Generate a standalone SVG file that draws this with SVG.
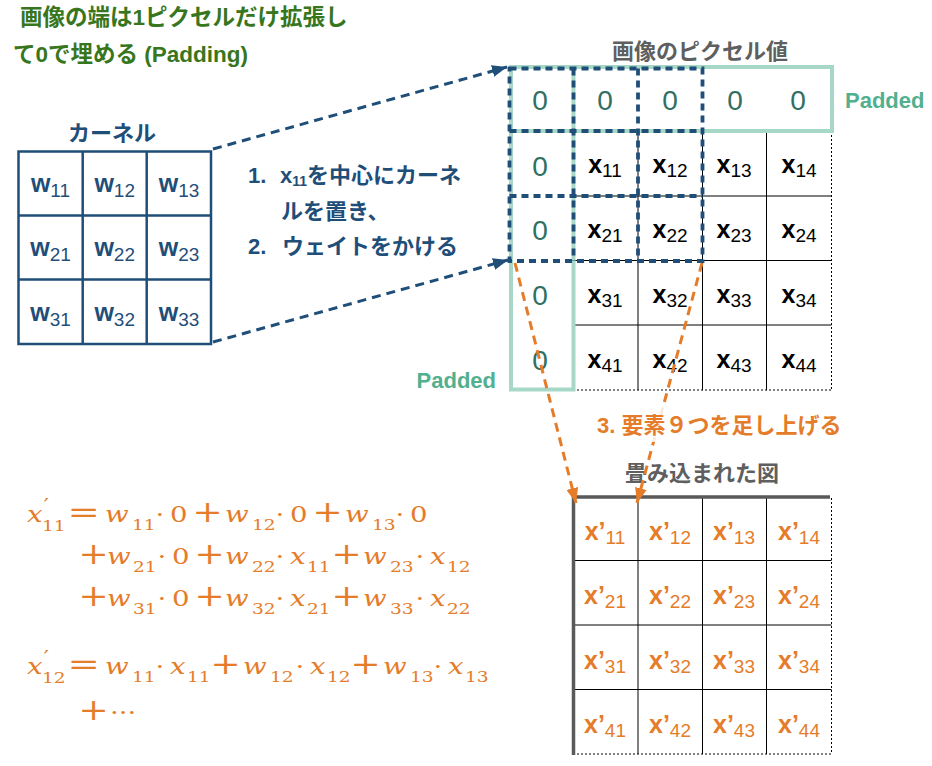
<svg xmlns="http://www.w3.org/2000/svg" width="932" height="766" viewBox="0 0 932 766">
<defs>
<style>
.sans{font-family:"Liberation Sans","Noto Sans CJK JP",sans-serif}
.b{font-weight:bold}
.green{fill:#38761d}
.navy{fill:#1f4e79}
.gray{fill:#5f5f5f}
.orange{fill:#e57c2a}
.teal{fill:#52b08f}
.zero{font-family:"Liberation Sans",sans-serif;font-size:28px;fill:#2f7062;text-anchor:middle}
.cell{font-family:"Liberation Sans",sans-serif;font-size:25px;font-weight:bold;text-anchor:middle}
.sub{font-size:19px;font-weight:normal}
.thin{stroke:#000;stroke-width:1;fill:none}
.dot{stroke:#000;stroke-width:1;fill:none;stroke-dasharray:2 2}
.tealbox{fill:none;stroke:#a6d7c7;stroke-width:4}
.kdash{fill:none;stroke:#1f4e79;stroke-width:3.8;stroke-dasharray:7 5}
.navyline{fill:none;stroke:#1f4e79;stroke-width:3;stroke-dasharray:9 6}
.orangeline{fill:none;stroke:#e57c2a;stroke-width:3;stroke-dasharray:9 6}
.m{font-family:"DejaVu Serif",serif;font-size:23px;fill:#e57c2a}
.mi{font-style:italic}
.ms{font-size:15.5px;font-style:normal}
.pr{font-style:normal;font-size:19px}
.op{font-size:30px;text-anchor:middle}
.c{text-anchor:middle}
</style>
<marker id="arrN" markerUnits="userSpaceOnUse" markerWidth="15" markerHeight="12" refX="15" refY="6" orient="auto">
<path d="M0,0 L15,6 L0,12 z" fill="#1f4e79"/>
</marker>
<marker id="arrO" markerUnits="userSpaceOnUse" markerWidth="15" markerHeight="12" refX="15" refY="6" orient="auto">
<path d="M0,0 L15,6 L0,12 z" fill="#e57c2a"/>
</marker>
</defs>
<rect width="932" height="766" fill="#fff"/>

<g id="heading" class="sans b green" font-size="22.5">
<text x="20" y="25">画像の端は1ピクセルだけ拡張し</text>
<text x="13" y="62">て0で埋める (Padding)</text>
</g>

<g id="kernel">
<text class="sans b navy" x="112" y="141" font-size="22" text-anchor="middle">カーネル</text>
<g fill="none" stroke="#1f4e79" stroke-width="2.5">
<rect x="18.5" y="151.5" width="192.5" height="192.5"/>
<line x1="82.7" y1="151.5" x2="82.7" y2="344"/>
<line x1="146.7" y1="151.5" x2="146.7" y2="344"/>
<line x1="18.5" y1="215.5" x2="211" y2="215.5"/>
<line x1="18.5" y1="279.5" x2="211" y2="279.5"/>
</g>
<g class="cell navy">
<text x="50.5" y="192">w<tspan class="sub" dy="5">11</tspan></text>
<text x="114.7" y="192">w<tspan class="sub" dy="5">12</tspan></text>
<text x="179" y="192">w<tspan class="sub" dy="5">13</tspan></text>
<text x="50.5" y="256">w<tspan class="sub" dy="5">21</tspan></text>
<text x="114.7" y="256">w<tspan class="sub" dy="5">22</tspan></text>
<text x="179" y="256">w<tspan class="sub" dy="5">23</tspan></text>
<text x="50.5" y="321">w<tspan class="sub" dy="5">31</tspan></text>
<text x="114.7" y="321">w<tspan class="sub" dy="5">32</tspan></text>
<text x="179" y="321">w<tspan class="sub" dy="5">33</tspan></text>
</g>
</g>

<g id="steps" class="sans b navy" font-size="22">
<text x="248" y="183">1.</text>
<text x="280" y="183">x<tspan font-size="14" dy="3">11</tspan><tspan dy="-3">を中心にカーネ</tspan></text>
<text x="281" y="219">ルを置き、</text>
<text x="248" y="254">2.</text>
<text x="282" y="254">ウェイトをかける</text>
</g>

<g id="image">
<text class="sans b gray" x="700" y="59" font-size="22" text-anchor="middle">画像のピクセル値</text>
<line class="thin" x1="638" y1="131" x2="638" y2="390"/>
<line class="thin" x1="702.5" y1="131" x2="702.5" y2="390"/>
<line class="thin" x1="766.5" y1="131" x2="766.5" y2="390"/>
<line class="thin" x1="573" y1="196" x2="831.5" y2="196"/>
<line class="thin" x1="573" y1="260.5" x2="831.5" y2="260.5"/>
<line class="thin" x1="573" y1="325" x2="831.5" y2="325"/>
<line class="dot" x1="831.5" y1="131" x2="831.5" y2="390"/>
<line class="dot" x1="573" y1="390" x2="831.5" y2="390"/>
<rect class="tealbox" x="511" y="67" width="321" height="64"/>
<rect class="tealbox" x="511" y="67" width="62.5" height="322.5"/>
<g class="zero">
<text x="540" y="110">0</text>
<text x="605" y="110">0</text>
<text x="670" y="110">0</text>
<text x="735" y="110">0</text>
<text x="798" y="110">0</text>
<text x="540" y="176">0</text>
<text x="540" y="240">0</text>
<text x="540" y="305">0</text>
<text x="540" y="370">0</text>
</g>
<g class="cell" fill="#000">
<text x="605" y="173">x<tspan class="sub" dy="4">11</tspan></text>
<text x="670" y="173">x<tspan class="sub" dy="4">12</tspan></text>
<text x="734" y="173">x<tspan class="sub" dy="4">13</tspan></text>
<text x="799" y="173">x<tspan class="sub" dy="4">14</tspan></text>
<text x="605" y="238">x<tspan class="sub" dy="4">21</tspan></text>
<text x="670" y="238">x<tspan class="sub" dy="4">22</tspan></text>
<text x="734" y="238">x<tspan class="sub" dy="4">23</tspan></text>
<text x="799" y="238">x<tspan class="sub" dy="4">24</tspan></text>
<text x="605" y="303">x<tspan class="sub" dy="4">31</tspan></text>
<text x="670" y="303">x<tspan class="sub" dy="4">32</tspan></text>
<text x="734" y="303">x<tspan class="sub" dy="4">33</tspan></text>
<text x="799" y="303">x<tspan class="sub" dy="4">34</tspan></text>
<text x="605" y="368">x<tspan class="sub" dy="4">41</tspan></text>
<text x="670" y="368">x<tspan class="sub" dy="4">42</tspan></text>
<text x="734" y="368">x<tspan class="sub" dy="4">43</tspan></text>
<text x="799" y="368">x<tspan class="sub" dy="4">44</tspan></text>
</g>
<g id="kernel-window">
<rect class="kdash" x="509.5" y="68.5" width="193" height="192.5"/>
<line class="kdash" x1="573.5" y1="68.5" x2="573.5" y2="261"/>
<line class="kdash" x1="638" y1="68.5" x2="638" y2="261"/>
<line class="kdash" x1="509.5" y1="131" x2="702.5" y2="131"/>
<line class="kdash" x1="509.5" y1="196" x2="702.5" y2="196"/>
</g>
<text class="sans b teal" x="845" y="108" font-size="22">Padded</text>
<text class="sans b teal" x="496" y="388" font-size="22" text-anchor="end">Padded</text>
</g>

<g id="output">
<text class="sans b gray" x="702" y="481" font-size="22" text-anchor="middle">畳み込まれた図</text>
<line class="thin" x1="638" y1="496" x2="638" y2="754"/>
<line class="thin" x1="702.5" y1="496" x2="702.5" y2="754"/>
<line class="thin" x1="766.5" y1="496" x2="766.5" y2="754"/>
<line class="thin" x1="573" y1="560.5" x2="831.5" y2="560.5"/>
<line class="thin" x1="573" y1="625" x2="831.5" y2="625"/>
<line class="thin" x1="573" y1="689.5" x2="831.5" y2="689.5"/>
<line class="dot" x1="831.5" y1="498" x2="831.5" y2="754"/>
<line class="dot" x1="573" y1="754" x2="831.5" y2="754"/>
<path d="M573.5,755 V497 H830" fill="none" stroke="#5a5a5a" stroke-width="3.5"/>
<g class="cell orange">
<text x="605" y="540">x’<tspan class="sub" dy="4">11</tspan></text>
<text x="670" y="540">x’<tspan class="sub" dy="4">12</tspan></text>
<text x="734" y="540">x’<tspan class="sub" dy="4">13</tspan></text>
<text x="799" y="540">x’<tspan class="sub" dy="4">14</tspan></text>
<text x="605" y="604">x’<tspan class="sub" dy="4">21</tspan></text>
<text x="670" y="604">x’<tspan class="sub" dy="4">22</tspan></text>
<text x="734" y="604">x’<tspan class="sub" dy="4">23</tspan></text>
<text x="799" y="604">x’<tspan class="sub" dy="4">24</tspan></text>
<text x="605" y="669">x’<tspan class="sub" dy="4">31</tspan></text>
<text x="670" y="669">x’<tspan class="sub" dy="4">32</tspan></text>
<text x="734" y="669">x’<tspan class="sub" dy="4">33</tspan></text>
<text x="799" y="669">x’<tspan class="sub" dy="4">34</tspan></text>
<text x="605" y="733">x’<tspan class="sub" dy="4">41</tspan></text>
<text x="670" y="733">x’<tspan class="sub" dy="4">42</tspan></text>
<text x="734" y="733">x’<tspan class="sub" dy="4">43</tspan></text>
<text x="799" y="733">x’<tspan class="sub" dy="4">44</tspan></text>
</g>
</g>

<g id="connectors">
<line class="navyline" x1="213" y1="149" x2="507" y2="67" marker-end="url(#arrN)"/>
<line class="navyline" x1="213" y1="342" x2="508" y2="260" marker-end="url(#arrN)"/>
<line class="orangeline" x1="515" y1="263" x2="576" y2="503" marker-end="url(#arrO)"/>
<line class="orangeline" x1="702" y1="263" x2="637" y2="503" marker-end="url(#arrO)"/>
</g>

<g id="sum-label">
<rect x="592" y="404" width="262" height="38" fill="#fff" fill-opacity="0.85"/>
<text class="sans b orange" x="597" y="433" font-size="22">3. 要素９つを足し上げる</text>
</g>

<g id="formula" transform="scale(1.2 1)">
<g class="m">
<text class="mi" x="22.5" y="522">x<tspan class="pr" x="36.5" y="512">′</tspan><tspan class="ms" x="35" y="531">11</tspan></text>
<text class="op" x="69.8" y="522" textLength="27" lengthAdjust="spacingAndGlyphs">=</text>
<text class="mi" x="87.5" y="522">w</text><text class="ms" x="110" y="530">11</text>
<text class="c" x="133.3" y="522">·</text>
<text x="141.7" y="522">0</text>
<text class="op" x="172.9" y="522">+</text>
<text class="mi" x="187.5" y="522">w</text><text class="ms" x="210" y="530">12</text>
<text class="c" x="233.3" y="522">·</text>
<text x="241.7" y="522">0</text>
<text class="op" x="272.9" y="522">+</text>
<text class="mi" x="287.5" y="522">w</text><text class="ms" x="310" y="530">13</text>
<text class="c" x="333.3" y="522">·</text>
<text x="341.7" y="522">0</text>

<text class="op" x="77.9" y="564">+</text>
<text class="mi" x="89.2" y="564">w</text><text class="ms" x="110.8" y="572">21</text>
<text class="c" x="135" y="564">·</text>
<text x="143.3" y="564">0</text>
<text class="op" x="174.6" y="564">+</text>
<text class="mi" x="187.5" y="564">w</text><text class="ms" x="210" y="572">22</text>
<text class="c" x="233.3" y="564">·</text>
<text class="mi" x="241.7" y="564">x</text><text class="ms" x="255.8" y="572">11</text>
<text class="op" x="288.75" y="564">+</text>
<text class="mi" x="302.5" y="564">w</text><text class="ms" x="325" y="572">23</text>
<text class="c" x="350" y="564">·</text>
<text class="mi" x="358.3" y="564">x</text><text class="ms" x="372.5" y="572">12</text>

<text class="op" x="77.9" y="606">+</text>
<text class="mi" x="89.2" y="606">w</text><text class="ms" x="110.8" y="614">31</text>
<text class="c" x="135" y="606">·</text>
<text x="143.3" y="606">0</text>
<text class="op" x="174.6" y="606">+</text>
<text class="mi" x="187.5" y="606">w</text><text class="ms" x="210" y="614">32</text>
<text class="c" x="233.3" y="606">·</text>
<text class="mi" x="241.7" y="606">x</text><text class="ms" x="255.8" y="614">21</text>
<text class="op" x="288.75" y="606">+</text>
<text class="mi" x="302.5" y="606">w</text><text class="ms" x="325" y="614">33</text>
<text class="c" x="350" y="606">·</text>
<text class="mi" x="358.3" y="606">x</text><text class="ms" x="372.5" y="614">22</text>

<text class="mi" x="22.5" y="674">x<tspan class="pr" x="36.5" y="664">′</tspan><tspan class="ms" x="35" y="683">12</tspan></text>
<text class="op" x="69.8" y="674" textLength="27" lengthAdjust="spacingAndGlyphs">=</text>
<text class="mi" x="87.5" y="674">w</text><text class="ms" x="110" y="682">11</text>
<text class="c" x="133.3" y="674">·</text>
<text class="mi" x="141.7" y="674">x</text><text class="ms" x="155.8" y="682">11</text>
<text class="op" x="187.9" y="674">+</text>
<text class="mi" x="202.5" y="674">w</text><text class="ms" x="225" y="682">12</text>
<text class="c" x="250" y="674">·</text>
<text class="mi" x="258.3" y="674">x</text><text class="ms" x="272.5" y="682">12</text>
<text class="op" x="304.6" y="674">+</text>
<text class="mi" x="319.2" y="674">w</text><text class="ms" x="341.7" y="682">13</text>
<text class="c" x="365" y="674">·</text>
<text class="mi" x="373.3" y="674">x</text><text class="ms" x="387.5" y="682">13</text>

<text class="op" x="77.9" y="720">+</text>
<text x="91.7" y="720">···</text>
</g>
</g>
</svg>
